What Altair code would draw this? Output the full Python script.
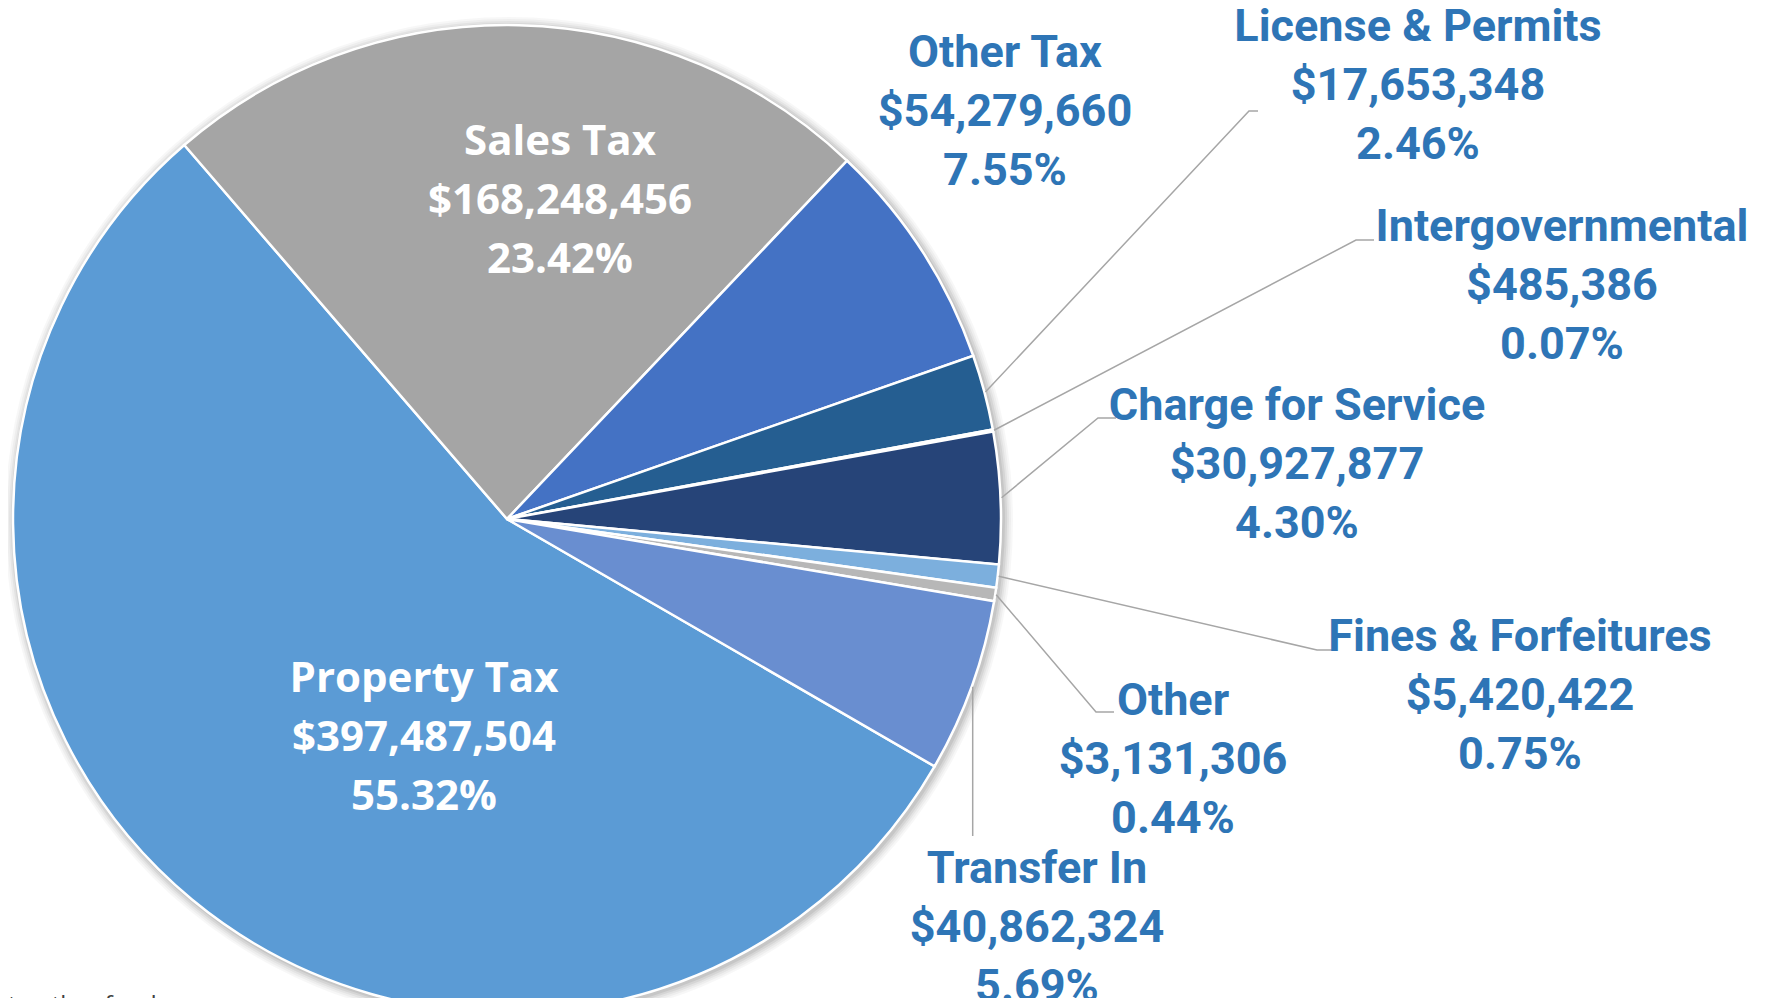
import math
import altair as alt
import pandas as pd

# ---------------- data ----------------
categories = ["Property Tax", "Sales Tax", "Other Tax", "License & Permits",
              "Intergovernmental", "Charge for Service", "Fines & Forfeitures",
              "Other", "Transfer In"]
amounts = [397487504, 168248456, 54279660, 17653348, 485386,
           30927877, 5420422, 3131306, 40862324]
percents = [55.32, 23.42, 7.55, 2.46, 0.07, 4.30, 0.75, 0.44, 5.69]

# ---------------- styles / layout ----------------
colors = ["#5B9BD5", "#A5A5A5", "#4472C4", "#255E91", "#636363",
          "#264478", "#7CAFDD", "#B7B7B7", "#698ED0"]

W, H = 1756, 990
OFF = 8                      # page margin
CX, CY, R = 507 - OFF, 519 - OFF, 494
START = math.radians(120.05)
LINE_H = 59

# label anchor (page coords): centre x, y of first line, inside?
label_pos = {
    "Property Tax": (424, 679, True),
    "Sales Tax": (560, 142, True),
    "Other Tax": (1005, 53, False),
    "License & Permits": (1418, 27, False),
    "Intergovernmental": (1562, 227, False),
    "Charge for Service": (1297, 406, False),
    "Fines & Forfeitures": (1520, 637, False),
    "Other": (1173, 701, False),
    "Transfer In": (1037, 869, False),
}
# leader lines: elbow and end (page coords); None x = vertical from slice
leader_pos = {
    "License & Permits": ((1249, 111), (1258, 111)),
    "Intergovernmental": ((1356, 240), (1374, 240)),
    "Charge for Service": ((1098, 418), (1116, 418)),
    "Fines & Forfeitures": ((1317, 650), (1332, 650)),
    "Other": ((1096, 712), (1114, 712)),
    "Transfer In": ((None, 836), (None, 836)),
}

total = sum(amounts)

# ---------------- tables ----------------
pie_df = pd.DataFrame({"category": categories, "amount": amounts,
                       "idx": list(range(len(categories)))})

rows = []
for cat, amt, pct in zip(categories, amounts, percents):
    x, y, inside = label_pos[cat]
    lines = [cat, "${:,}".format(amt), "{:.2f}%".format(pct)]
    for i, t in enumerate(lines):
        rows.append({"category": cat, "text": t, "x": x - OFF,
                     "y": y - OFF + i * LINE_H, "inside": inside})
lab_df = pd.DataFrame(rows)

lrows = []
cum = 0
for cat, amt in zip(categories, amounts):
    mid = START + 2 * math.pi * (cum + amt / 2) / total
    cum += amt
    if cat not in leader_pos:
        continue
    sx = CX + (R + 1) * math.sin(mid)
    sy = CY - (R + 1) * math.cos(mid)
    (ex, ey), (fx, fy) = leader_pos[cat]
    ex = sx if ex is None else ex - OFF
    fx = sx if fx is None else fx - OFF
    pts = [(sx, sy), (ex, ey - OFF), (fx, fy - OFF)]
    for k, (px, py) in enumerate(pts):
        lrows.append({"category": cat, "k": k, "x": px, "y": py})
lead_df = pd.DataFrame(lrows)

# ---------------- layers ----------------
shadow_layers = []
for dr, op in [(10, 0.03), (8, 0.035), (6, 0.045), (4, 0.06), (2, 0.07)]:
    shadow_layers.append(
        alt.Chart(alt.Data(values=[{"a": 1}])).mark_arc(
            radius=R + dr, theta=0, theta2=2 * math.pi,
            fill="#000000", opacity=op
        ).encode(x=alt.value(CX + 2), y=alt.value(CY + 2))
    )

pie = alt.Chart(pie_df).mark_arc(radius=R, stroke="white", strokeWidth=2.5).encode(
    x=alt.value(CX), y=alt.value(CY),
    theta=alt.Theta("amount:Q", stack=True,
                    scale=alt.Scale(range=[START, START + 2 * math.pi])),
    color=alt.Color("category:N", scale=alt.Scale(domain=categories, range=colors),
                    legend=None),
    order=alt.Order("idx:Q"),
)

leaders = alt.Chart(lead_df).mark_line(color="#A6A6A6", strokeWidth=1.5).encode(
    x=alt.X("x:Q", scale=None, axis=None),
    y=alt.Y("y:Q", scale=None, axis=None),
    detail="category:N",
    order="k:Q",
)

inside_text = alt.Chart(lab_df[lab_df["inside"]]).mark_text(
    font="Open Sans", fontWeight="bold", fontSize=42, color="white",
    align="center", baseline="middle"
).encode(
    x=alt.X("x:Q", scale=None, axis=None),
    y=alt.Y("y:Q", scale=None, axis=None),
    text="text:N",
)

outside_text = alt.Chart(lab_df[~lab_df["inside"]]).mark_text(
    font="Roboto", fontWeight="bold",
    fontSize=45, color="#2E75B6", align="center", baseline="middle"
).encode(
    x=alt.X("x:Q", scale=None, axis=None),
    y=alt.Y("y:Q", scale=None, axis=None),
    text="text:N",
)

note = alt.Chart(alt.Data(values=[{"t": "to other funds"}])).mark_text(
    font="Open Sans", fontSize=24, color="#404040",
    align="left", baseline="top"
).encode(x=alt.value(0), y=alt.value(986), text="t:N")

chart = alt.layer(*shadow_layers, pie, leaders, inside_text, outside_text, note).properties(
    width=W, height=H, padding=0, autosize=alt.AutoSizeParams(type="none"),
    background="white"
).configure_view(stroke=None)

chart.save("out.html", embed_options={"renderer": "svg", "actions": False})
